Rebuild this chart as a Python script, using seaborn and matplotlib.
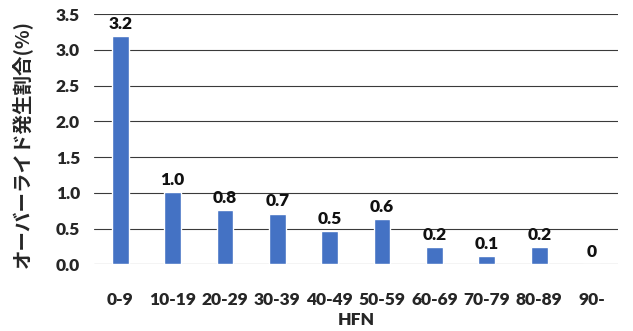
import matplotlib
matplotlib.use("Agg")
import matplotlib.pyplot as plt
import seaborn as sns
import pandas as pd

categories = ["0-9", "10-19", "20-29", "30-39", "40-49", "50-59",
              "60-69", "70-79", "80-89", "90-"]
rates = [3.20, 1.01, 0.76, 0.71, 0.46, 0.63, 0.24, 0.12, 0.24, 0.0]
y_ticks = [0.0, 0.5, 1.0, 1.5, 2.0, 2.5, 3.0, 3.5]

sns.set_theme(style="white")
plt.rcParams["font.family"] = ["Lato", "Noto Sans CJK JP", "DejaVu Sans"]

df = pd.DataFrame({"HFN": categories, "rate": rates})

fig = plt.figure(figsize=(6.33, 3.31), dpi=100)
ax = fig.add_axes([0.1485, 0.2015, 0.8275, 0.7555])

sns.barplot(data=df, x="HFN", y="rate", color="#4472C4", width=0.32,
            saturation=1, ax=ax, zorder=3)

fs = 12.5
wt = "heavy"
ax.set_ylim(0, 3.5)
ax.set_yticks(y_ticks)
ax.set_yticklabels([f"{t:.1f}" for t in y_ticks], fontsize=fs, fontweight=wt)
ax.set_xticklabels(categories, fontsize=fs, fontweight=wt)
ax.tick_params(axis="both", length=0)
ax.tick_params(axis="x", pad=20)
ax.tick_params(axis="y", pad=10)

ax.grid(axis="y", color="#3a3a3a", linewidth=0.8, zorder=0)
ax.grid(axis="x", visible=False)
for side in ("left", "right", "top", "bottom"):
    ax.spines[side].set_visible(False)
ax.set_xlim(-0.5, len(categories) - 0.5)

labels = ["0" if v == 0 else f"{v:.1f}" for v in rates]
ax.bar_label(ax.containers[0], labels=labels, padding=3, fontsize=fs,
             fontweight=wt, color="#111111")

ax.set_xlabel("HFN", fontsize=fs, fontweight=wt, labelpad=3)
ax.set_ylabel("オーバーライド発生割合(%)", fontsize=14, fontweight="bold",
              family=["Noto Sans CJK JP", "DejaVu Sans"])
ax.yaxis.set_label_coords(-0.118, 0.48)

fig.savefig("out.png", dpi=100)
